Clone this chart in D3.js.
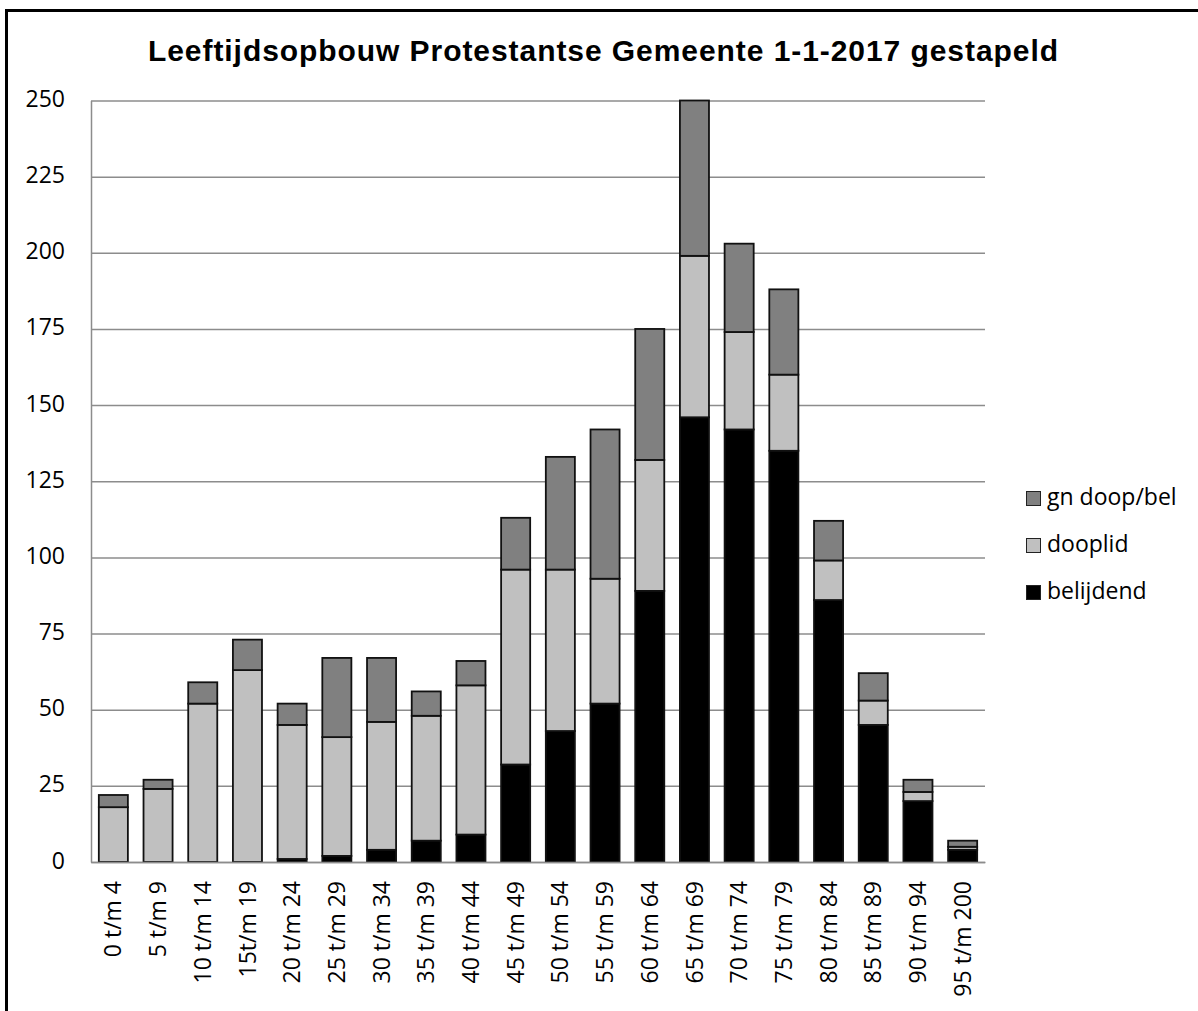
<!DOCTYPE html>
<html>
<head>
<meta charset="utf-8">
<script src="https://cdn.jsdelivr.net/npm/d3@7"></script>
<style>
  body { margin: 0; background: #fff; }
  svg { display: block; }
</style>
</head>
<body>
<div id="chart"></div>
<script>
const categories = ["0 t/m 4", "5 t/m 9", "10 t/m 14", "15t/m 19", "20 t/m 24", "25 t/m 29",
	"30 t/m 34", "35 t/m 39", "40 t/m 44", "45 t/m 49", "50 t/m 54", "55 t/m 59", "60 t/m 64",
	"65 t/m 69", "70 t/m 74", "75 t/m 79", "80 t/m 84", "85 t/m 89", "90 t/m 94", "95 t/m 200"];
const belijdend = [0, 0, 0, 0, 1, 2, 4, 7, 9, 32, 43, 52, 89, 146, 142, 135, 86, 45, 20, 4];
const dooplid = [18, 24, 52, 63, 44, 39, 42, 41, 49, 64, 53, 41, 43, 53, 32, 25, 13, 8, 3, 1];
const gnDoopBel = [4, 3, 7, 10, 7, 26, 21, 8, 8, 17, 37, 49, 43, 51, 29, 28, 13, 9, 4, 2];
const yTicks = [0, 25, 50, 75, 100, 125, 150, 175, 200, 225, 250];
const seriesNames = ["belijdend", "dooplid", "gn doop/bel"];

const W = 1198, H = 1011;
const PLOT = { LEFT: 91, RIGHT: 985, TOP: 100.5, BOTTOM: 862 };
const colors = { "belijdend": "#000000", "dooplid": "#c0c0c0", "gn doop/bel": "#808080" };

// table for the stack
const rows = categories.map((c, i) => ({
	cat: c,
	"belijdend": belijdend[i],
	"dooplid": dooplid[i],
	"gn doop/bel": gnDoopBel[i],
}));

const svg = d3.select("#chart").append("svg")
	.attr("width", W)
	.attr("height", H);

const x = d3.scaleBand()
	.domain(categories)
	.range([PLOT.LEFT, PLOT.RIGHT])
	.paddingInner(0.35)
	.paddingOuter(0.175);

const y = d3.scaleLinear()
	.domain([0, 250])
	.range([PLOT.BOTTOM, PLOT.TOP]);

// y axis + gridlines
const yAxis = svg.append("g")
	.attr("transform", `translate(${PLOT.LEFT},0)`)
	.call(d3.axisLeft(y)
		.tickValues(yTicks)
		.tickSizeInner(-(PLOT.RIGHT - PLOT.LEFT))
		.tickSizeOuter(0)
		.tickPadding(26));
yAxis.select(".domain").attr("stroke", "#8c8c8c").attr("stroke-width", 1.5);
yAxis.selectAll(".tick line").attr("stroke", "#8c8c8c").attr("stroke-width", 1.5);
yAxis.selectAll(".tick text")
	.attr("dy", 6)
	.style("font-family", "'Open Sans', sans-serif")
	.style("font-size", "23px")
	.attr("fill", "#000");

// stacked bars
const stacked = d3.stack().keys(seriesNames)(rows);

svg.append("g")
	.selectAll("g")
	.data(stacked)
	.join("g")
	.attr("fill", (d) => colors[d.key])
	.selectAll("rect")
	.data((d) => d.filter((s) => s[1] - s[0] > 0))
	.join("rect")
	.attr("x", (d) => x(d.data.cat))
	.attr("y", (d) => y(d[1]))
	.attr("width", x.bandwidth())
	.attr("height", (d) => y(d[0]) - y(d[1]))
	.attr("stroke", "#111")
	.attr("stroke-width", 1.8);

// x axis
const xAxis = svg.append("g")
	.attr("transform", `translate(0,${PLOT.BOTTOM})`)
	.call(d3.axisBottom(x).tickSize(0).tickSizeOuter(0));
xAxis.select(".domain").attr("stroke", "#8c8c8c").attr("stroke-width", 1.5);
xAxis.selectAll(".tick text")
	.attr("transform", "rotate(-90)")
	.attr("text-anchor", "end")
	.attr("x", -19)
	.attr("y", 0)
	.attr("dy", "0.35em")
	.style("font-family", "'Open Sans', sans-serif")
	.style("font-size", "23px")
	.attr("fill", "#000");

// title
svg.append("text")
	.attr("x", 603)
	.attr("y", 61)
	.attr("text-anchor", "middle")
	.attr("textLength", 910)
	.attr("lengthAdjust", "spacing")
	.style("font-family", "'Liberation Sans', Arial, sans-serif")
	.style("font-weight", "bold")
	.style("font-size", "30px")
	.text("Leeftijdsopbouw Protestantse Gemeente 1-1-2017 gestapeld");

// legend (top item is the last series)
const legend = svg.append("g")
	.attr("transform", "translate(1026,0)");
const legendItems = legend.selectAll("g")
	.data(seriesNames.slice().reverse())
	.join("g")
	.attr("transform", (d, i) => `translate(0, ${505 + i * 47})`);
legendItems.append("rect")
	.attr("x", 0.5)
	.attr("y", -13.5)
	.attr("width", 14)
	.attr("height", 14)
	.attr("fill", (d) => colors[d])
	.attr("stroke", "#222")
	.attr("stroke-width", 1);
legendItems.append("text")
	.attr("x", 21)
	.attr("y", 0)
	.style("font-family", "'Open Sans', sans-serif")
	.style("font-size", "23px")
	.text((d) => d);

// outer frame
svg.append("rect")
	.attr("x", 6.5)
	.attr("y", 10.5)
	.attr("width", 1300)
	.attr("height", 1100)
	.attr("fill", "none")
	.attr("stroke", "#000")
	.attr("stroke-width", 3);
</script>
</body>
</html>
